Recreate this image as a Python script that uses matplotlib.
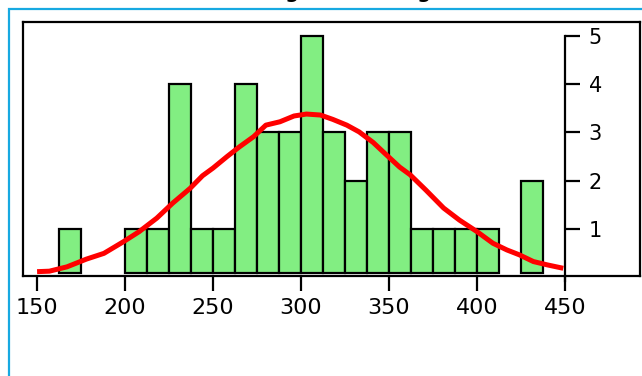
import matplotlib
matplotlib.use("Agg")
import matplotlib.pyplot as plt
from matplotlib.patches import Rectangle
from matplotlib.lines import Line2D

# ---- data ----
bin_left = [162.5, 200, 212.5, 225, 237.5, 250, 262.5, 275, 287.5, 300,
            312.5, 325, 337.5, 350, 362.5, 375, 387.5, 400, 425]
counts = [1, 1, 1, 4, 1, 1, 4, 3, 3, 5, 3, 2, 3, 3, 1, 1, 1, 1, 2]
bin_width = 12.5

curve_x = [150, 157, 167, 178, 188, 199, 208, 218, 227, 237, 244, 250, 258,
           265, 273, 280, 288, 296, 303, 311, 318, 326, 333, 341, 348, 356,
           362, 371, 381, 390, 400, 409, 417, 424, 432, 440, 449]
curve_y = [0.11, 0.12, 0.21, 0.37, 0.49, 0.73, 0.94, 1.22, 1.53, 1.84, 2.10,
           2.26, 2.50, 2.70, 2.91, 3.15, 3.22, 3.34, 3.38, 3.36, 3.27, 3.15,
           3.01, 2.79, 2.55, 2.28, 2.12, 1.80, 1.43, 1.18, 0.94, 0.70, 0.56,
           0.46, 0.32, 0.25, 0.18]

x_ticks = [150, 200, 250, 300, 350, 400, 450]
y_ticks = [1, 2, 3, 4, 5]
title = "Histogram of Length"

# ---- figure ----
W, H = 642, 376
fig = plt.figure(figsize=(W / 100, H / 100), dpi=100)
fig.patch.set_facecolor("white")

# blue outer border
fig.patches.append(Rectangle((9 / W, -0.1), 1.2, 1 - 9 / H + 0.1,
                             transform=fig.transFigure, fill=False,
                             edgecolor="#17a9e1", linewidth=1.6))

# title mostly cut off at top (as in the reference)
fig.text(228 / W, 1 + 1.5 / H, title, ha="left", va="baseline",
         fontsize=14, fontweight="bold", color="black")

ax = fig.add_axes([23 / W, (H - 276) / H, (640 - 23) / W, (276 - 22) / H])
ax.set_xlim(142, 492.6)
ax.set_ylim(0.02, 5.29)

base = 0.09  # small visual gap between bars and frame
ax.bar(bin_left, [c - base for c in counts], width=bin_width, align="edge",
       bottom=base, color="#82ee82", edgecolor="black", linewidth=1.6,
       zorder=2)
ax.plot(curve_x, curve_y, color="#ff0000", linewidth=3.6,
        solid_capstyle="butt", zorder=3)

# frame
for s in ["left", "top", "bottom"]:
    ax.spines[s].set_linewidth(1.6)
ax.add_line(Line2D([1, 1], [0, 1], transform=ax.transAxes, color="black",
                   linewidth=1.6, clip_on=False))

# y axis on the right, positioned at x=450
ax.yaxis.tick_right()
ax.spines["right"].set_position(("data", 450))
ax.spines["right"].set_linewidth(1.6)
ax.spines["right"].set_bounds(-0.08, 5)
ax.set_yticks(y_ticks)
ax.set_yticklabels([str(v) for v in y_ticks])
ax.tick_params(axis="y", direction="out", length=11, width=1.6, pad=6,
               labelsize=15, left=False, right=True)

ax.set_xticks(x_ticks)
ax.set_xticklabels([str(v) for v in x_ticks])
ax.tick_params(axis="x", direction="out", length=11, width=1.6, pad=5,
               labelsize=16)

fig.savefig("out.png", dpi=100)
